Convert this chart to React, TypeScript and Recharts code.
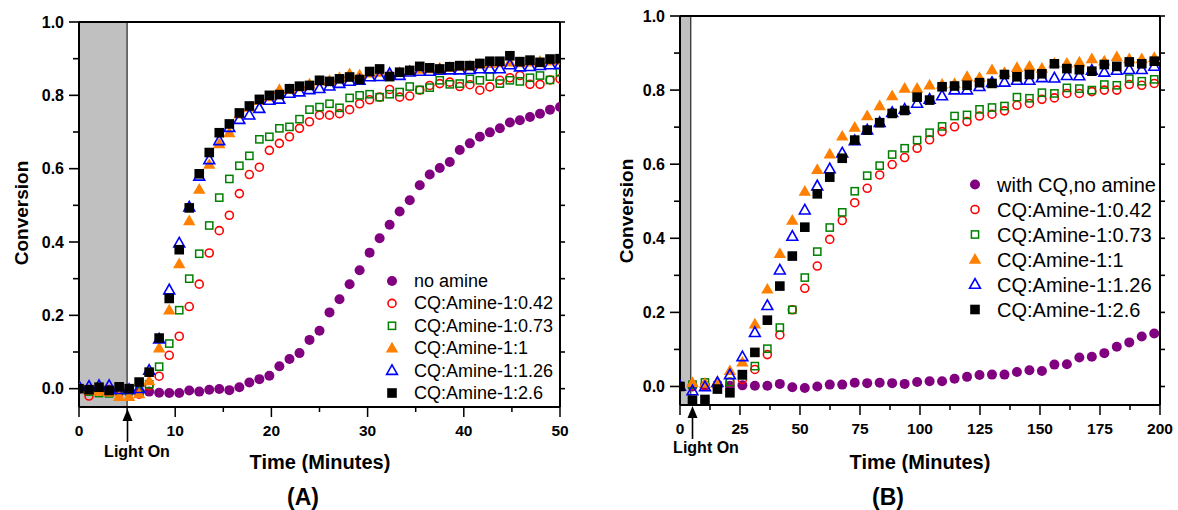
import React from "react";
import {
  ScatterChart,
  Scatter,
  XAxis,
  YAxis,
  ReferenceArea,
  ReferenceLine,
} from "recharts";

const FONT = "'Liberation Sans', Arial, Helvetica, sans-serif";

// ---- panel A: 0-50 min, one reading every ~1.04 min ----
const timeA = [
  0, 1.04, 2.08, 3.13, 4.17, 5.21, 6.25, 7.29, 8.33, 9.38, 10.42, 11.46, 12.5,
  13.54, 14.58, 15.63, 16.67, 17.71, 18.75, 19.79, 20.83, 21.88, 22.92, 23.96,
  25, 26.04, 27.08, 28.13, 29.17, 30.21, 31.25, 32.29, 33.33, 34.38, 35.42,
  36.46, 37.5, 38.54, 39.58, 40.63, 41.67, 42.71, 43.75, 44.79, 45.83, 46.88,
  47.92, 48.96, 50,
];
const noAmineA = [
  0.0, -0.002, 0.0, -0.003, -0.005, -0.005, -0.008, -0.008, -0.011, -0.012,
  -0.012, -0.005, -0.008, -0.003, -0.001, -0.004, 0.004, 0.017, 0.026, 0.035,
  0.061, 0.081, 0.097, 0.133, 0.158, 0.208, 0.244, 0.285, 0.323, 0.371, 0.41,
  0.447, 0.483, 0.514, 0.555, 0.584, 0.602, 0.618, 0.651, 0.669, 0.687, 0.699,
  0.71, 0.726, 0.732, 0.741, 0.75, 0.761, 0.768,
];
const r042A = [
  0.0, -0.02, -0.005, -0.005, -0.01, -0.01, -0.015, 0.008, 0.034, 0.091, 0.143,
  0.224, 0.285, 0.37, 0.431, 0.473, 0.532, 0.584, 0.604, 0.65, 0.669, 0.687,
  0.71, 0.728, 0.746, 0.746, 0.75, 0.761, 0.777, 0.788, 0.795, 0.816, 0.795,
  0.798, 0.814, 0.827, 0.832, 0.836, 0.824, 0.829, 0.814, 0.823, 0.841, 0.848,
  0.854, 0.83, 0.83, 0.842, 0.845,
];
const r073A = [
  0.0, -0.008, -0.012, -0.013, -0.005, -0.006, -0.008, 0.012, 0.06, 0.123,
  0.214, 0.3, 0.368, 0.445, 0.521, 0.572, 0.608, 0.635, 0.68, 0.687, 0.71,
  0.714, 0.735, 0.761, 0.768, 0.777, 0.766, 0.793, 0.8, 0.803, 0.795, 0.803,
  0.809, 0.824, 0.815, 0.821, 0.841, 0.83, 0.832, 0.845, 0.841, 0.851, 0.832,
  0.841, 0.838, 0.848, 0.854, 0.842, 0.863,
];
const r1A = [
  0.0, -0.005, -0.008, -0.01, -0.022, -0.022, -0.015, 0.021, 0.11, 0.214,
  0.34, 0.457, 0.543, 0.611, 0.667, 0.697, 0.748, 0.767, 0.785, 0.795, 0.815,
  0.815, 0.822, 0.83, 0.838, 0.84, 0.848, 0.858, 0.855, 0.86, 0.862, 0.855,
  0.862, 0.866, 0.87, 0.872, 0.874, 0.876, 0.878, 0.88, 0.884, 0.886, 0.888,
  0.89, 0.888, 0.89, 0.892, 0.893, 0.895,
];
const r126A = [
  0.006, 0.006, 0.008, 0.008, -0.003, -0.003, 0.0, 0.05, 0.135, 0.269, 0.397,
  0.495, 0.579, 0.624, 0.676, 0.712, 0.734, 0.746, 0.764, 0.786, 0.789, 0.805,
  0.809, 0.815, 0.818, 0.825, 0.832, 0.838, 0.841, 0.85, 0.851, 0.859, 0.854,
  0.863, 0.865, 0.865, 0.868, 0.869, 0.869, 0.87, 0.872, 0.872, 0.872, 0.883,
  0.877, 0.878, 0.881, 0.883, 0.884,
];
const r26A = [
  0.0, -0.003, 0.004, -0.005, 0.005, 0.0, 0.018, 0.045, 0.138, 0.246, 0.379,
  0.493, 0.586, 0.644, 0.698, 0.722, 0.752, 0.771, 0.789, 0.8, 0.802, 0.818,
  0.825, 0.827, 0.841, 0.838, 0.845, 0.85, 0.843, 0.865, 0.872, 0.851, 0.863,
  0.868, 0.879, 0.875, 0.872, 0.878, 0.881, 0.881, 0.887, 0.893, 0.893, 0.908,
  0.892, 0.896, 0.89, 0.899, 0.9,
];

// ---- panel B: 0-200 min, one reading every 5.2 min ----
const timeB = [
  0, 5.2, 10.4, 15.6, 20.8, 26, 31.2, 36.4, 41.6, 46.8, 52, 57.2, 62.4, 67.6,
  72.8, 78, 83.2, 88.4, 93.6, 98.8, 104, 109.2, 114.4, 119.6, 124.8, 130,
  135.2, 140.4, 145.6, 150.8, 156, 161.2, 166.4, 171.6, 176.8, 182, 187.2,
  192.4, 197.6,
];
const noAmineB = [
  0.0, 0.0, 0.002, 0.0, 0.002, 0.003, 0.002, 0.002, 0.007, -0.002, -0.004, 0.0,
  0.005, 0.005, 0.01, 0.009, 0.01, 0.009, 0.007, 0.012, 0.014, 0.014, 0.021,
  0.026, 0.031, 0.032, 0.032, 0.039, 0.044, 0.042, 0.059, 0.06, 0.078, 0.08,
  0.09, 0.107, 0.119, 0.135, 0.143,
];
const r042B = [
  0.0, 0.003, 0.002, 0.004, 0.012, 0.019, 0.046, 0.086, 0.139, 0.207, 0.265,
  0.325, 0.397, 0.448, 0.496, 0.535, 0.571, 0.599, 0.618, 0.643, 0.666, 0.688,
  0.701, 0.715, 0.73, 0.735, 0.744, 0.759, 0.764, 0.775, 0.779, 0.791, 0.791,
  0.796, 0.8, 0.8, 0.815, 0.813, 0.818,
];
const r073B = [
  0.0, 0.005, 0.011, 0.003, 0.012, 0.03, 0.055, 0.102, 0.159, 0.207, 0.294,
  0.364, 0.429, 0.47, 0.527, 0.569, 0.596, 0.626, 0.643, 0.665, 0.685, 0.702,
  0.73, 0.733, 0.748, 0.753, 0.757, 0.781, 0.778, 0.793, 0.791, 0.806, 0.804,
  0.8, 0.815, 0.813, 0.831, 0.824, 0.829,
];
const r1B = [
  0.0, 0.01, 0.008, 0.013, 0.042, 0.065, 0.168, 0.262, 0.358, 0.448, 0.526,
  0.585, 0.627, 0.675, 0.699, 0.73, 0.757, 0.784, 0.804, 0.804, 0.813, 0.815,
  0.817, 0.836, 0.833, 0.854, 0.847, 0.86, 0.864, 0.858, 0.872, 0.872, 0.875,
  0.884, 0.878, 0.889, 0.884, 0.884, 0.887,
];
const r126B = [
  0.0, -0.012, -0.001, 0.01, 0.031, 0.08, 0.145, 0.218, 0.314, 0.405, 0.476,
  0.541, 0.587, 0.63, 0.663, 0.692, 0.712, 0.739, 0.748, 0.764, 0.775, 0.784,
  0.8, 0.8, 0.809, 0.82, 0.821, 0.826, 0.826, 0.833, 0.832, 0.839, 0.838,
  0.853, 0.848, 0.853, 0.855, 0.855, 0.864,
];
const r26B = [
  0.0, -0.037, -0.035, -0.007, -0.017, 0.032, 0.092, 0.179, 0.271, 0.352, 0.43,
  0.52, 0.565, 0.616, 0.665, 0.692, 0.712, 0.737, 0.745, 0.781, 0.773, 0.809,
  0.811, 0.813, 0.82, 0.818, 0.842, 0.836, 0.842, 0.844, 0.871, 0.858, 0.855,
  0.851, 0.869, 0.864, 0.876, 0.871, 0.878,
];

const ticksA = [0, 5, 10, 15, 20, 25, 30, 35, 40, 45, 50];
const ticksB = [0, 12.5, 25, 37.5, 50, 62.5, 75, 87.5, 100, 112.5, 125, 137.5, 150, 162.5, 175, 187.5, 200];
const ticksY = [0, 0.1, 0.2, 0.3, 0.4, 0.5, 0.6, 0.7, 0.8, 0.9, 1.0];

const ratioLabels = [
  "CQ:Amine-1:0.42",
  "CQ:Amine-1:0.73",
  "CQ:Amine-1:1",
  "CQ:Amine-1:1.26",
  "CQ:Amine-1:2.6",
];

type Kind = "dot" | "ring" | "box" | "tri" | "triOpen" | "square";

const styles: { kind: Kind; color: string }[] = [
  { kind: "dot", color: "#800080" },
  { kind: "ring", color: "#ff0000" },
  { kind: "box", color: "#008000" },
  { kind: "tri", color: "#ff8000" },
  { kind: "triOpen", color: "#0000ff" },
  { kind: "square", color: "#000000" },
];

function Marker({ kind, color, cx, cy }: { kind: Kind; color: string; cx: number; cy: number }) {
  if (cx == null || cy == null) return null;
  switch (kind) {
    case "dot":
      return <circle cx={cx} cy={cy} r={5} fill={color} />;
    case "ring":
      return <circle cx={cx} cy={cy} r={4} fill="none" stroke={color} strokeWidth={1.6} />;
    case "box":
      return (
        <rect x={cx - 3.6} y={cy - 3.6} width={7.2} height={7.2} fill="none" stroke={color} strokeWidth={1.5} />
      );
    case "tri":
      return <polygon points={`${cx},${cy - 6.5} ${cx - 6.2},${cy + 4.2} ${cx + 6.2},${cy + 4.2}`} fill={color} />;
    case "triOpen":
      return (
        <polygon
          points={`${cx},${cy - 5.8} ${cx - 5.4},${cy + 3.8} ${cx + 5.4},${cy + 3.8}`}
          fill="none"
          stroke={color}
          strokeWidth={1.6}
        />
      );
    default:
      return <rect x={cx - 4.8} y={cy - 4.8} width={9.6} height={9.6} fill={color} />;
  }
}

function makeXTick(majorStep: number) {
  return (props: any) => {
    const { x, y, payload } = props;
    const v = payload.value as number;
    const major = v % majorStep === 0;
    return (
      <g>
        <line x1={x} y1={y} x2={x} y2={y + (major ? 10 : 5)} stroke="#000" strokeWidth={1.5} />
        {major && (
          <text x={x} y={y + 29} textAnchor="middle" fontFamily={FONT} fontWeight="bold" fontSize={15.5} fill="#000">
            {v}
          </text>
        )}
      </g>
    );
  };
}

function LeftTick(props: any) {
  const { x, y, payload } = props;
  const v = payload.value as number;
  const major = Math.round(v * 10) % 2 === 0;
  return (
    <g>
      <line x1={x - (major ? 10 : 6)} y1={y} x2={x} y2={y} stroke="#000" strokeWidth={1.6} />
      {major && (
        <text x={x - 15} y={y + 5.5} textAnchor="end" fontFamily={FONT} fontWeight="bold" fontSize={16} fill="#000">
          {v.toFixed(1)}
        </text>
      )}
    </g>
  );
}

function RightTick(props: any) {
  const { x, y } = props;
  return <line x1={x} y1={y} x2={x + 5} y2={y} stroke="#000" strokeWidth={1.6} />;
}

function Panel({
  times,
  series,
  xMax,
  xTicks,
  majorStep,
  lightEnd,
  width,
  margin,
  yWidth,
}: {
  times: number[];
  series: number[][];
  xMax: number;
  xTicks: number[];
  majorStep: number;
  lightEnd: number;
  width: number;
  margin: { top: number; right: number; bottom: number; left: number };
  yWidth: number;
}) {
  const frame = { stroke: "#000", strokeWidth: 2 };
  return (
    <ScatterChart width={width} height={510} margin={margin}>
      <XAxis
        type="number"
        dataKey="t"
        domain={[0, xMax]}
        ticks={xTicks}
        interval={0}
        height={30}
        tickSize={0}
        tickMargin={0}
        tickLine={false}
        axisLine={frame}
        tick={makeXTick(majorStep)}
        allowDataOverflow
      />
      <YAxis
        type="number"
        dataKey="v"
        domain={[-0.05, 1]}
        ticks={ticksY}
        interval={0}
        width={yWidth}
        tickSize={0}
        tickMargin={0}
        tickLine={false}
        axisLine={frame}
        tick={<LeftTick />}
        allowDataOverflow
      />
      <YAxis
        yAxisId="r"
        orientation="right"
        type="number"
        dataKey="v"
        domain={[-0.05, 1]}
        ticks={ticksY}
        interval={0}
        width={10}
        tickSize={0}
        tickMargin={0}
        tickLine={false}
        axisLine={frame}
        tick={<RightTick />}
        allowDataOverflow
      />
      <ReferenceArea x1={0} x2={lightEnd} y1={-0.05} y2={1} fill="#c0c0c0" fillOpacity={1} stroke="#000" strokeWidth={1} />
      <ReferenceLine y={1} stroke="#000" strokeWidth={2} />
      {series.map((values, i) => (
        <Scatter
          key={i}
          data={times.map((t, j) => ({ t, v: values[j] }))}
          isAnimationActive={false}
          shape={(p: any) => <Marker kind={styles[i].kind} color={styles[i].color} cx={p.cx} cy={p.cy} />}
        />
      ))}
    </ScatterChart>
  );
}

function Legend({ names, x, y, step, fontSize }: { names: string[]; x: number; y: number; step: number; fontSize: number }) {
  return (
    <g>
      {names.map((n, i) => (
        <g key={n}>
          <Marker kind={styles[i].kind} color={styles[i].color} cx={x} cy={y + i * step} />
          <text x={x + 22} y={y + i * step} dominantBaseline="central" fontFamily={FONT} fontSize={fontSize} fill="#000">
            {n}
          </text>
        </g>
      ))}
    </g>
  );
}

function LightOn({ x, tip, textX, textY }: { x: number; tip: number; textX: number; textY: number }) {
  return (
    <g>
      <polygon points={`${x},${tip} ${x - 5},${tip + 12} ${x + 5},${tip + 12}`} fill="#000" />
      <line x1={x} y1={tip + 10} x2={x} y2={tip + 33} stroke="#000" strokeWidth={1.6} />
      <text x={textX} y={textY} textAnchor="middle" fontFamily={FONT} fontWeight="bold" fontSize={16} fill="#000">
        Light On
      </text>
    </g>
  );
}

export default function App() {
  const bold = { fontFamily: FONT, fontWeight: "bold" as const, fill: "#000" };
  return (
    <div style={{ position: "absolute", left: 0, top: 0, width: 1178, height: 510, background: "#fff" }}>
      <div style={{ position: "absolute", left: 0, top: 0 }}>
        <Panel
          times={timeA}
          series={[noAmineA, r042A, r073A, r1A, r126A, r26A]}
          xMax={50}
          xTicks={ticksA}
          majorStep={10}
          lightEnd={5}
          width={600}
          margin={{ top: 22, right: 30, bottom: 73, left: 0 }}
          yWidth={79}
        />
      </div>
      <div style={{ position: "absolute", left: 600, top: 0 }}>
        <Panel
          times={timeB}
          series={[noAmineB, r042B, r073B, r1B, r126B, r26B]}
          xMax={200}
          xTicks={ticksB}
          majorStep={25}
          lightEnd={4.5}
          width={578}
          margin={{ top: 16, right: 8, bottom: 75, left: 0 }}
          yWidth={80}
        />
      </div>
      <svg width={1178} height={510} style={{ position: "absolute", left: 0, top: 0, pointerEvents: "none" }}>
        <text x={21} y={213} transform="rotate(-90 21 213)" textAnchor="middle" dominantBaseline="central" fontSize={19} {...bold}>
          Conversion
        </text>
        <text x={626} y={211} transform="rotate(-90 626 211)" textAnchor="middle" dominantBaseline="central" fontSize={19} {...bold}>
          Conversion
        </text>
        <text x={320} y={469} textAnchor="middle" fontSize={20} {...bold}>
          Time (Minutes)
        </text>
        <text x={920} y={469} textAnchor="middle" fontSize={20} {...bold}>
          Time (Minutes)
        </text>
        <text x={303} y={505} textAnchor="middle" fontSize={23} {...bold}>
          (A)
        </text>
        <text x={888} y={505} textAnchor="middle" fontSize={23} {...bold}>
          (B)
        </text>
        <LightOn x={127.5} tip={409} textX={137} textY={457} />
        <LightOn x={692.5} tip={406} textX={706} textY={453} />
        <Legend names={["no amine", ...ratioLabels]} x={392} y={281} step={22.4} fontSize={18} />
        <Legend names={["with CQ,no amine", ...ratioLabels]} x={975} y={184.5} step={25} fontSize={20} />
      </svg>
    </div>
  );
}
